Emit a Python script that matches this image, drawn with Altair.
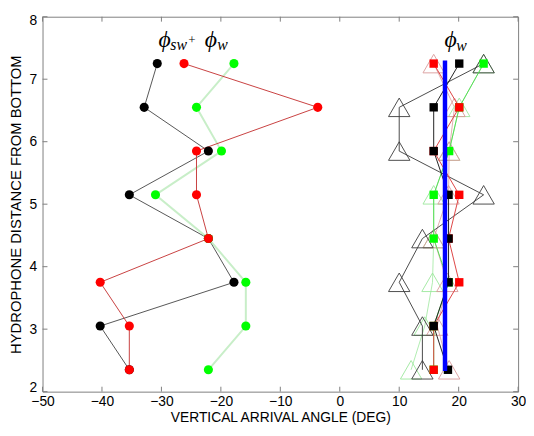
import altair as alt
import pandas as pd

depth = [7.25, 6.55, 5.85, 5.15, 4.45, 3.75, 3.05, 2.35]

# phi_sw + phi_w  (circles)
sw_black = [-30.7, -32.9, -22.1, -35.4, -22.1, -17.8, -40.3, -35.4]
sw_red = [-26.2, -3.7, -24.1, -24.1, -22.1, -40.3, -35.4, -35.4]
sw_green = [-17.8, -24.1, -19.9, -31.0, -22.1, -15.8, -15.8, -22.1]

# phi_w  (squares)
w_black = [20.1, 15.8, 15.8, 18.3, 18.3, 18.3, 15.8, 18.2]
w_red = [15.8, 20.1, 15.8, 20.1, 18.3, 20.1, 15.8, 15.8]
w_green = [24.2, 20.1, 18.4, 15.8, 15.8, 18.3, 15.8, 15.8]

# phi_w  (open triangles)
tri_black = [24.2, 10.0, 10.0, 24.2, 13.9, 10.0, 13.9, 13.9]
tri_pink = [15.8, 19.3, 18.4, 18.3, 15.8, 18.1, 16.4, 18.4]
tri_lgreen = [24.2, 20.1, 18.4, 15.8, 15.8, 15.6, 14.3, 12.0]

# mean phi_w (blue line)
blue_x = [17.7, 17.7]
blue_y = [2.33, 7.30]

x_ticks = [-50, -40, -30, -20, -10, 0, 10, 20, 30]
y_ticks = [2, 3, 4, 5, 6, 7, 8]

# annotation pieces: phi_sw + phi_w   and   phi_w
ann_text = ["\u03d5", "sw", "+", "\u03d5", "w", "\u03d5", "w"]
ann_x = [-30.5, -28.5, -25.6, -22.7, -20.6, 17.6, 19.6]
ann_y = [7.51, 7.46, 7.57, 7.51, 7.46, 7.51, 7.45]
ann_fs = [24, 16, 13, 24, 16, 24, 16]


def sdf(xs):
    return pd.DataFrame({"x": xs, "y": depth, "i": list(range(len(xs)))})


FONT = "Liberation Sans"
x_enc = alt.X(
    "x:Q",
    scale=alt.Scale(domain=[-50, 30], nice=False, zero=False),
    axis=alt.Axis(
        values=x_ticks, ticks=False, domain=False, grid=False,
        labelFont=FONT, labelFontSize=14, labelColor="black", labelPadding=3,
        labelFlush=False,
        title="VERTICAL ARRIVAL ANGLE (DEG)", titleFont=FONT, titleFontSize=14,
        titleFontWeight="normal", titleColor="black", titlePadding=2,
    ),
)
y_enc = alt.Y(
    "y:Q",
    scale=alt.Scale(domain=[2, 8], nice=False, zero=False),
    axis=alt.Axis(
        values=y_ticks, ticks=False, domain=False, grid=False,
        labelFont=FONT, labelFontSize=14, labelColor="black", labelPadding=6,
        labelFlush=True, labelFlushOffset=3,
        title="HYDROPHONE DISTANCE FROM BOTTOM", titleFont=FONT, titleFontSize=15,
        titleFontWeight="normal", titleColor="black", titlePadding=6,
    ),
)
order = alt.Order("i:Q")


def line(xs, color, width=1.0, opacity=1.0):
    return alt.Chart(sdf(xs)).mark_line(
        color=color, strokeWidth=width, opacity=opacity
    ).encode(x=x_enc, y=y_enc, order=order)


def pts(xs, shape, color, size, filled=True, opacity=1.0, sw=1.0):
    if filled:
        m = alt.Chart(sdf(xs)).mark_point(
            shape=shape, filled=True, color=color, size=size, opacity=opacity
        )
    else:
        m = alt.Chart(sdf(xs)).mark_point(
            shape=shape, filled=False, stroke=color, size=size,
            strokeWidth=sw, opacity=opacity
        )
    return m.encode(x=x_enc, y=y_enc)


layers = []
# faint triangles
layers += [line(tri_lgreen, "#9be89b", 1.0, 0.8), line(tri_pink, "#d99a9a", 1.0, 0.8)]
layers += [pts(tri_lgreen, "triangle-up", "#9be89b", 470, False, 0.9),
           pts(tri_pink, "triangle-up", "#d99a9a", 470, False, 0.9)]
# black triangles
layers += [line(tri_black, "#4a4a4a", 1.0),
           pts(tri_black, "triangle-up", "#3a3a3a", 470, False, 1.0, 0.9)]
# squares
layers += [line(w_green, "#55dd55", 1.0), line(w_red, "#dd4444", 1.0), line(w_black, "#222222", 1.0)]
layers += [pts(w_green, "square", "#00ff00", 72),
           pts(w_red, "square", "#ff0000", 72),
           pts(w_black, "square", "#000000", 72)]
# circles
layers += [line(sw_black, "#555555", 1.0), line(sw_green, "#b5e8b5", 2.0, 0.75), line(sw_red, "#c84040", 1.0)]
layers += [pts(sw_black, "circle", "#000000", 85),
           pts(sw_green, "circle", "#00ff00", 85),
           pts(sw_red, "circle", "#ff0000", 85)]

# blue mean line
blue_df = pd.DataFrame({"x": blue_x, "y": blue_y, "i": [0, 1]})
layers.append(
    alt.Chart(blue_df).mark_line(color="#0000ff", strokeWidth=4.5).encode(
        x=x_enc, y=y_enc, order=order)
)

# inward ticks on all four sides
W, H, TL = 482, 380, 5
xt = pd.DataFrame({"x": x_ticks})
yt = pd.DataFrame({"y": y_ticks})
tick_color = "#7f7f7f"
layers.append(alt.Chart(xt).mark_rule(color=tick_color, strokeWidth=1).encode(
    x=x_enc, y=alt.value(H), y2=alt.value(H - TL)))
layers.append(alt.Chart(xt).mark_rule(color=tick_color, strokeWidth=1).encode(
    x=x_enc, y=alt.value(0), y2=alt.value(TL)))
layers.append(alt.Chart(yt).mark_rule(color=tick_color, strokeWidth=1).encode(
    y=y_enc, x=alt.value(0), x2=alt.value(TL)))
layers.append(alt.Chart(yt).mark_rule(color=tick_color, strokeWidth=1).encode(
    y=y_enc, x=alt.value(W), x2=alt.value(W - TL)))

# annotations
ann_df = pd.DataFrame({"t": ann_text, "x": ann_x, "y": ann_y, "fs": ann_fs})
layers.append(
    alt.Chart(ann_df).mark_text(
        font="Liberation Serif", fontStyle="italic", align="left",
        baseline="alphabetic", color="black"
    ).encode(x=x_enc, y=y_enc, text="t:N", size=alt.Size("fs:Q", scale=None))
)

chart = alt.layer(*layers).properties(
    width=W, height=H,
    padding={"left": 35, "top": 6, "right": 8, "bottom": 34},
    autosize=alt.AutoSizeParams(type="none"),
    background="white",
).configure_view(stroke="#7f7f7f", strokeWidth=1)

chart.save("out.html", embed_options={"renderer": "svg", "actions": False})
